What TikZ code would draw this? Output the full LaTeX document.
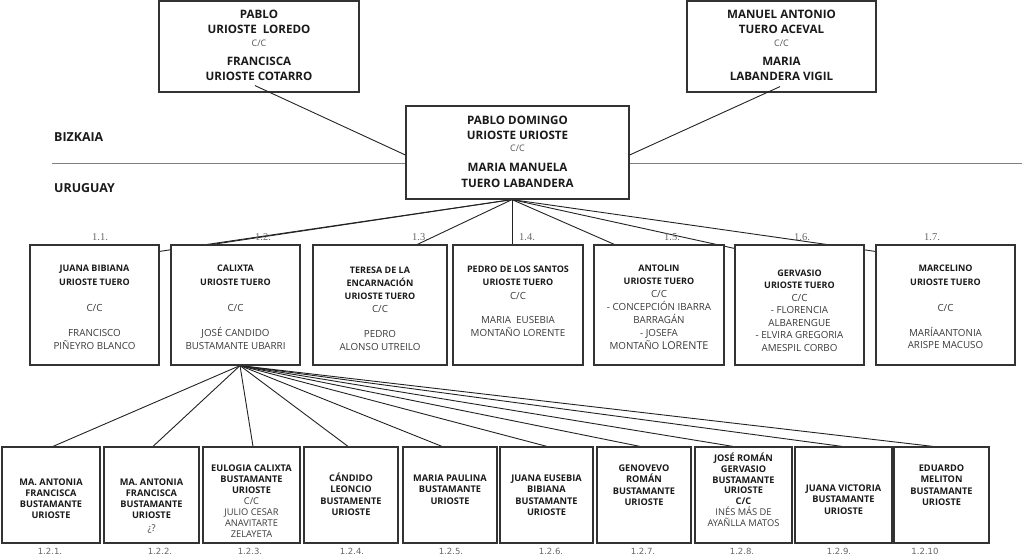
\documentclass[tikz,border=0pt]{standalone}
\usepackage{fontspec}
\setmainfont{Open Sans}
\newfontfamily\serf{Liberation Serif}
\newfontfamily\lblf{DejaVu Sans}
\pgfdeclarelayer{bg}
\pgfsetlayers{bg,main}
\definecolor{boxc}{HTML}{333333}
\definecolor{linec}{HTML}{222222}
\definecolor{txtc}{HTML}{1A1A1A}
\definecolor{regc}{HTML}{3A3A3A}
\definecolor{ccc}{HTML}{555555}
\definecolor{divc}{HTML}{808080}
\definecolor{lblc}{HTML}{666666}
\newcommand\nm{\fontsize{9.8}{13}\selectfont\mdseries\color{regc}}
\newcommand\nb{\fontsize{9.3}{11}\selectfont\mdseries\color{regc}}
\newcommand\cc{\fontsize{9}{15}\selectfont\mdseries\color{ccc}}
\newcommand\fsr[1]{\rule{0pt}{#1}}
\begin{document}
\begin{tikzpicture}[x=1pt,y=-1pt,
  box/.style={draw=boxc, line width=1.2pt, fill=white, inner sep=0pt, rectangle},
  big/.style={inner sep=0pt, align=center, text=txtc, font=\fontsize{11.6}{15}\selectfont\bfseries, anchor=north},
  mid/.style={inner sep=0pt, align=center, text=txtc, font=\fontsize{9}{13}\selectfont\bfseries, anchor=north},
  sml/.style={inner sep=0pt, align=center, text=txtc, font=\fontsize{9.2}{11}\selectfont\bfseries, anchor=north},
  conn/.style={draw=linec, line width=0.9pt},
  divider/.style={draw=divc, line width=0.9pt},
  region/.style={inner sep=0pt, anchor=west, text=txtc, font=\fontsize{12.4}{16}\selectfont\bfseries},
  toplbl/.style={inner sep=0pt, text=lblc, font=\fontsize{10.5}{12}\selectfont\serf},
  botlbl/.style={inner sep=0pt, text=lblc, font=\fontsize{8.5}{10}\selectfont\lblf},
]
\useasboundingbox (0,0) rectangle (1024,555);

% ---------- top generation ----------
\node[box, minimum width=200pt, minimum height=91pt] (tl) at (259,46.5) {};
\node[big] (tlt) at (259,6.5) {\fsr{11.6pt}PABLO\\URIOSTE~~LOREDO\\[-2pt]{\cc C/C}\\[4pt]FRANCISCA\\URIOSTE COTARRO};

\node[box, minimum width=189pt, minimum height=91pt] (tr) at (781.5,46.5) {};
\node[big] (trt) at (781.5,6.5) {\fsr{11.6pt}MANUEL ANTONIO\\TUERO ACEVAL\\[-2pt]{\cc C/C}\\[4pt]MARIA\\LABANDERA VIGIL};

% ---------- regions ----------
\coordinate (hl) at (52,163);
\coordinate (hr) at (1022,163);
\node[region] (bz) at (54,137) {BIZKAIA};
\node[region] (uy) at (54,188) {URUGUAY};

% ---------- center couple ----------
\node[box, minimum width=223pt, minimum height=93pt] (c) at (517.5,152.5) {};
\node[big] (ct) at (517.5,112.5) {\fsr{11.6pt}PABLO DOMINGO\\URIOSTE URIOSTE\\[-3pt]{\cc C/C}\\[5pt]MARIA MANUELA\\[1pt]TUERO LABANDERA};

% ---------- children ----------
\node[box, minimum width=129pt, minimum height=120pt] (m1) at (94.5,305) {};
\node[mid] (m1t) at (94.5,262.2) {\fsr{9pt}JUANA BIBIANA\\[1pt]URIOSTE TUERO\\[13pt]{\nm C/C}\\[12pt]{\nm FRANCISCO}\\{\nm PIÑEYRO BLANCO}};

\node[box, minimum width=129pt, minimum height=120pt] (m2) at (235.5,305) {};
\node[mid] (m2t) at (235.5,262.2) {\fsr{9pt}CALIXTA\\[1pt]URIOSTE TUERO\\[13pt]{\nm C/C}\\[12pt]{\nm JOSÉ CANDIDO}\\{\nm BUSTAMANTE UBARRI}};

\node[box, minimum width=134pt, minimum height=120pt] (m3) at (380,305) {};
\node[mid] (m3t) at (380,264.2) {\fsr{9pt}TERESA DE LA\\ENCARNACIÓN\\URIOSTE TUERO\\{\nm C/C}\\[12pt]{\nm PEDRO}\\{\nm ALONSO UTREILO}};

\node[box, minimum width=130pt, minimum height=120pt] (m4) at (518,305) {};
\node[mid] (m4t) at (518,263.2) {\fsr{9pt}PEDRO DE LOS SANTOS\\URIOSTE TUERO\\[1pt]{\nm C/C}\\[11pt]{\nm MARIA~~EUSEBIA}\\{\nm MONTAÑO LORENTE}};

\node[box, minimum width=130pt, minimum height=120pt] (m5) at (659,305) {};
\node[mid] (m5t) at (659,262.2) {\fsr{9pt}ANTOLIN\\URIOSTE TUERO\\{\nm C/C}\\{\nm - CONCEPCIÓN IBARRA}\\{\nm BARRAGÁN}\\{\nm - JOSEFA}\\{\nm MONTAÑO {\fontsize{10.8}{13}\selectfont LORENTE}}};

\node[box, minimum width=129pt, minimum height=120pt] (m6) at (799.5,305) {};
\node[mid] (m6t) at (799.5,267.2) {\fsr{9pt}GERVASIO\\[-0.5pt]URIOSTE TUERO\\[-0.5pt]{\nm C/C}\\[-0.5pt]{\nm - FLORENCIA}\\[-0.5pt]{\nm ALBARENGUE}\\[-0.5pt]{\nm - ELVIRA GREGORIA}\\[-0.5pt]{\nm AMESPIL CORBO}};

\node[box, minimum width=139pt, minimum height=120pt] (m7) at (945.5,305) {};
\node[mid] (m7t) at (945.5,262.2) {\fsr{9pt}MARCELINO\\[1pt]URIOSTE TUERO\\[13pt]{\nm C/C}\\[12pt]{\nm MARÍAANTONIA}\\[-1pt]{\nm ARISPE MACUSO}};

% child labels
\node[toplbl] (l1) at (100,237) {1.1.};
\node[toplbl] (l2) at (263,237) {1.2.};
\node[toplbl] (l3) at (420,237) {1.3.};
\node[toplbl] (l4) at (527,237) {1.4.};
\node[toplbl] (l5) at (672,237) {1.5.};
\node[toplbl] (l6) at (802,237) {1.6.};
\node[toplbl] (l7) at (932,237) {1.7.};

% ---------- grandchildren ----------
\node[box, minimum width=98pt, minimum height=96pt] (b1) at (51,495) {};
\node[sml] (b1t) at (51,476.1) {\fsr{9.2pt}MA. ANTONIA\\FRANCISCA\\BUSTAMANTE\\URIOSTE};

\node[box, minimum width=95pt, minimum height=96pt] (b2) at (151.5,495) {};
\node[sml] (b2t) at (151.5,476.1) {\fsr{9.2pt}MA. ANTONIA\\FRANCISCA\\BUSTAMANTE\\URIOSTE\\[2pt]{\nb ¿?}};

\node[box, minimum width=97pt, minimum height=96pt] (b3) at (251.5,495) {};
\node[sml] (b3t) at (251.5,462.1) {\fsr{9.2pt}EULOGIA CALIXTA\\BUSTAMANTE\\URIOSTE\\{\nb C/C}\\{\nb JULIO CESAR}\\{\nb ANAVITARTE}\\{\nb ZELAYETA}};

\node[box, minimum width=94pt, minimum height=96pt] (b4) at (351,495) {};
\node[sml] (b4t) at (351,472.1) {\fsr{9.2pt}CÁNDIDO\\[0.3pt]LEONCIO\\[0.3pt]BUSTAMENTE\\[0.3pt]URIOSTE};

\node[box, minimum width=94pt, minimum height=96pt] (b5) at (450,495) {};
\node[sml] (b5t) at (450,472.1) {\fsr{9.2pt}MARIA PAULINA\\[0.3pt]BUSTAMANTE\\[0.3pt]URIOSTE};

\node[box, minimum width=93pt, minimum height=96pt] (b6) at (546.5,495) {};
\node[sml] (b6t) at (546.5,472.1) {\fsr{9.2pt}JUANA EUSEBIA\\[0.3pt]BIBIANA\\[0.3pt]BUSTAMANTE\\[0.3pt]URIOSTE};

\node[box, minimum width=94pt, minimum height=96pt] (b7) at (644,495) {};
\node[sml] (b7t) at (644,462.1) {\fsr{9.2pt}GENOVEVO\\[0.3pt]ROMÁN\\[0.3pt]BUSTAMANTE\\[0.3pt]URIOSTE};

\node[box, minimum width=97pt, minimum height=96pt] (b8) at (743.5,495) {};
\node[sml] (b8t) at (743.5,452.1) {\fsr{9.2pt}JOSÉ ROMÁN\\[-0.2pt]GERVASIO\\[-0.2pt]BUSTAMANTE\\[-0.2pt]URIOSTE\\[-0.2pt]C/C\\[-0.2pt]{\nb INÉS MÁS DE}\\[-0.2pt]{\nb AYAÑLLA MATOS}};

\node[box, minimum width=97pt, minimum height=96pt] (b9) at (843.5,495) {};
\node[sml] (b9t) at (843.5,482.1) {\fsr{9.2pt}JUANA VICTORIA\\[0.3pt]BUSTAMANTE\\[0.3pt]URIOSTE};

\node[box, minimum width=95pt, minimum height=96pt] (b10) at (941.5,495) {};
\node[sml] (b10t) at (941.5,462.1) {\fsr{9.2pt}EDUARDO\\[0.3pt]MELITON\\[0.3pt]BUSTAMANTE\\[0.3pt]URIOSTE};

% grandchild labels
\node[botlbl] (g1) at (50,551) {1.2.1.};
\node[botlbl] (g2) at (160,551) {1.2.2.};
\node[botlbl] (g3) at (250,551) {1.2.3.};
\node[botlbl] (g4) at (352,551) {1.2.4.};
\node[botlbl] (g5) at (451,551) {1.2.5.};
\node[botlbl] (g6) at (551,551) {1.2.6.};
\node[botlbl] (g7) at (643,551) {1.2.7.};
\node[botlbl] (g8) at (742,551) {1.2.8.};
\node[botlbl] (g9) at (839,551) {1.2.9.};
\node[botlbl] (g10) at (925,551) {1.2.10};

% ---------- connectors ----------
\draw[conn] ([xshift=-4pt,yshift=7pt]tl.south) -- ([yshift=-2.5pt]c.west);
\draw[conn] ([xshift=-1.5pt,yshift=6pt]tr.south) -- ([yshift=-2.5pt]c.east);

\begin{pgfonlayer}{bg}
\draw[divider] (hl) -- (hr);
\coordinate (f1) at ([xshift=-5.5pt]c.south);
\draw[conn] (f1) -- ([yshift=-7pt]m1.north east);
\draw[conn] (f1) -- ([xshift=42pt]m2.north west);
\draw[conn] (f1) -- ([xshift=105pt]m3.north west);
\draw[conn] (f1) -- ([xshift=-6pt]m4.north);
\draw[conn] (f1) -- ([xshift=21pt]m5.north west);
\draw[conn] (f1) -- ([yshift=-4pt]m6.north west);
\draw[conn] (f1) -- ([yshift=-7pt]m7.north west);
\coordinate (f2) at ([xshift=4.5pt]m2.south);
\draw[conn] (f2) -- ([xshift=2pt]b1.north);
\draw[conn] (f2) -- ([xshift=1.5pt]b2.north);
\draw[conn] (f2) -- ([xshift=1.5pt]b3.north);
\draw[conn] (f2) -- ([xshift=-3pt]b4.north);
\draw[conn] (f2) -- ([xshift=-8pt]b5.north);
\draw[conn] (f2) -- ([xshift=0.5pt]b6.north);
\draw[conn] (f2) -- ([xshift=-4pt]b7.north);
\draw[conn] (f2) -- ([xshift=-10.5pt]b8.north);
\draw[conn] (f2) -- ([xshift=-1.5pt]b9.north);
\draw[conn] (f2) -- ([xshift=-8.5pt]b10.north);
\end{pgfonlayer}
\end{tikzpicture}
\end{document}
